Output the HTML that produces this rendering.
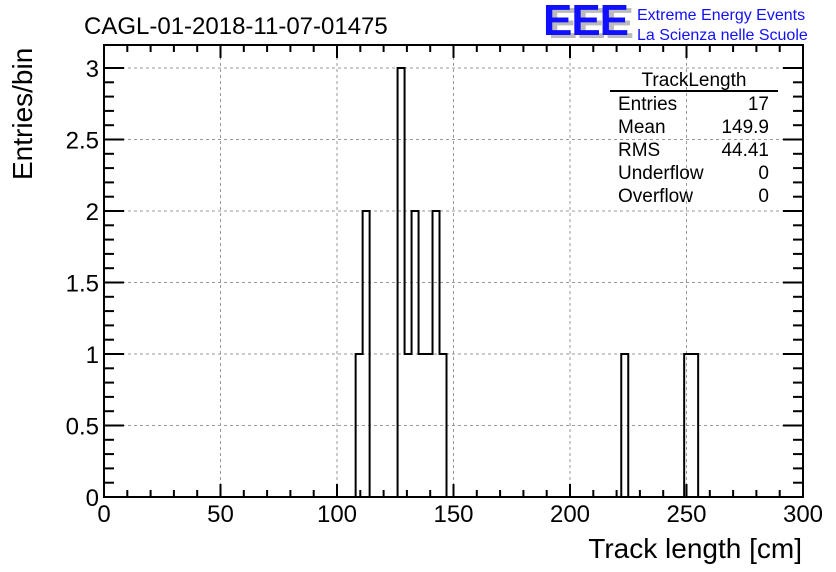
<!DOCTYPE html>
<html><head><meta charset="utf-8"><style>
html,body{margin:0;padding:0;background:#fff;}
svg{display:block;font-family:"Liberation Sans",sans-serif;}
</style></head><body>
<svg id="c" width="836" height="572">
<text x="84" y="34" font-size="24">CAGL-01-2018-11-07-01475</text>
<g>
<text x="548" y="38" font-size="44" fill="#bbb" font-weight="bold" textLength="86">EEE</text>
<text x="543" y="35" font-size="44" fill="#1010ff" font-weight="bold" textLength="86">EEE</text>
<text x="637" y="20" font-size="16" fill="#1010ff">Extreme Energy Events</text>
<text x="637" y="40" font-size="16" fill="#1010ff">La Scienza nelle Scuole</text>
</g>
<g id="grid"></g>
<g id="hist"></g>
<g id="axes"></g>
<g font-size="19">
<text x="694" y="86" text-anchor="middle">TrackLength</text>
<line x1="610" y1="91" x2="778" y2="91" stroke="#000" stroke-width="2"/>
<text x="618" y="110">Entries</text><text x="769" y="110" text-anchor="end">17</text>
<text x="618" y="133">Mean</text><text x="769" y="133" text-anchor="end">149.9</text>
<text x="618" y="156">RMS</text><text x="769" y="156" text-anchor="end">44.41</text>
<text x="618" y="179">Underflow</text><text x="769" y="179" text-anchor="end">0</text>
<text x="618" y="202">Overflow</text><text x="769" y="202" text-anchor="end">0</text>
</g>
<text x="802" y="558" font-size="28" text-anchor="end">Track length [cm]</text>
<text transform="translate(32,180) rotate(-90)" font-size="28">Entries/bin</text>
</svg>
<script>
const binLow = [108,111,114,117,120,123,126,129,132,135,138,141,144,222,249,252];
const binCounts = [1,2,0,0,0,0,3,1,2,1,1,2,1,1,1,1];
const binWidth = 3;
const xTicks = [0,50,100,150,200,250,300];
const yTicks = [0,0.5,1,1.5,2,2.5,3];
const yTickLabels = ["0","0.5","1","1.5","2","2.5","3"];
const L=104,R=803,T=45,B=497;
const X=v=>L+(v-0)/(300-0)*(R-L);
const Y=v=>B-(v/3)*(B-68);
const NS="http://www.w3.org/2000/svg";
function mk(tag,attrs,parent){const e=document.createElementNS(NS,tag);for(const k in attrs)e.setAttribute(k,attrs[k]);parent.appendChild(e);return e;}
const grid=document.getElementById('grid'),axes=document.getElementById('axes'),hist=document.getElementById('hist');
xTicks.forEach(v=>{if(v>0&&v<300){const l=mk('line',{x1:X(v),x2:X(v),y1:T,y2:B,stroke:'#999','stroke-dasharray':'3,3'},grid);

}});
yTicks.forEach(v=>{if(v>0){const l=mk('line',{x1:L,x2:R,y1:Y(v),y2:Y(v),stroke:'#999','stroke-dasharray':'3,3'},grid);

}});
// histogram step outline
const counts=new Map();
binLow.forEach((b,i)=>counts.set(b,(counts.get(b)||0)+binCounts[i]));
let d='M'+X(0)+','+Y(0);
for(let b=0;b<300;b+=binWidth){
  const c=counts.get(b)||0;
  d+=' L'+X(b)+','+Y(c)+' L'+X(b+binWidth)+','+Y(c);
}
d+=' L'+X(300)+','+Y(0);
const p=mk('path',{d:d,fill:'none',stroke:'#000','stroke-width':2},hist);


const fr=mk('rect',{x:L,y:T,width:R-L,height:B-T,fill:'none',stroke:'#000','stroke-width':2},axes);


for(let v=0;v<=300;v+=10){const big=v%50===0,len=big?13:7;
  mk('line',{x1:X(v),x2:X(v),y1:B,y2:B-len,stroke:'#000','stroke-width':2},axes);
  mk('line',{x1:X(v),x2:X(v),y1:T,y2:T+len,stroke:'#000','stroke-width':2},axes);}
for(let i=0;i<=30;i++){const v=i/10,big=i%5===0,len=big?20:10;
  mk('line',{x1:L,x2:L+len,y1:Y(v),y2:Y(v),stroke:'#000','stroke-width':2},axes);
  mk('line',{x1:R,x2:R-len,y1:Y(v),y2:Y(v),stroke:'#000','stroke-width':2},axes);}
xTicks.forEach(v=>{const t=mk('text',{x:X(v),y:522,'font-size':24,'text-anchor':'middle'},axes);t.textContent=v;

});
yTicks.forEach((v,i)=>{const t=mk('text',{x:99,y:Y(v)+9,'font-size':24,'text-anchor':'end'},axes);t.textContent=yTickLabels[i];

});
</script>
</body></html>
